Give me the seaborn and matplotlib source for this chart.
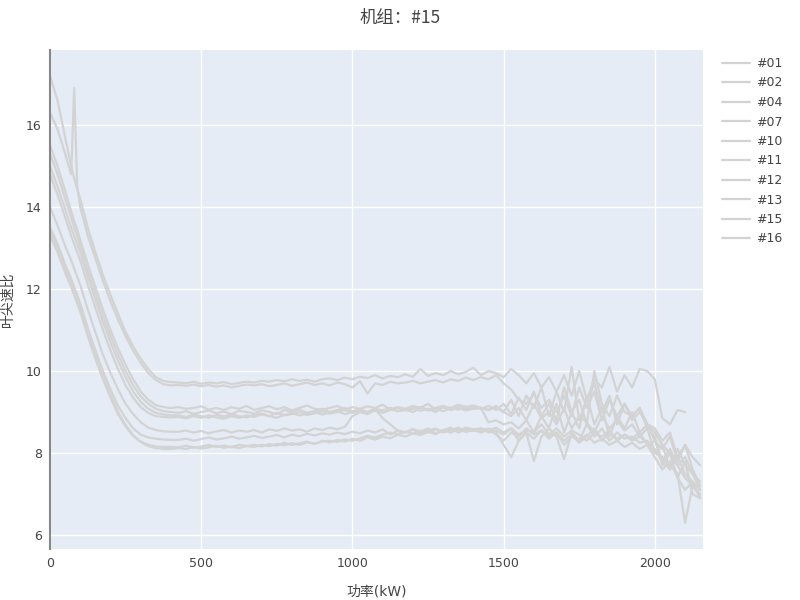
import numpy as np
import pandas as pd
import matplotlib
matplotlib.use("Agg")
import matplotlib.pyplot as plt
import seaborn as sns
from matplotlib.lines import Line2D

sns.set_theme(style="darkgrid")
plt.rcParams['font.family'] = ['DejaVu Sans', 'Noto Sans CJK SC']

# power bins (kW): dense near the start, then every 25 kW
kw_head = [0, 25, 50, 70, 80, 90, 100]
kw = np.concatenate([kw_head, np.arange(125, 2175, 25)])

units = ['#01', '#02', '#04', '#07', '#10', '#11', '#12', '#13', '#15', '#16']
nan = np.nan

tsr_01 = [17.2, 16.6, 15.7, 15.0, 14.7, 14.45, 14.2, 13.5, 12.9, 12.35, 11.85, 11.4, 10.95, 10.6, 10.3, 10.05, 9.85, 9.76, 9.73,
          9.72, 9.7, 9.74, 9.69, 9.72, 9.7, 9.73, 9.68, 9.71, 9.74,
          9.72, 9.76, 9.74, 9.78, 9.75, 9.8, 9.76, 9.79, 9.74, 9.8,
          9.82, 9.78, 9.84, 9.8, 9.86, 9.83, 9.9, 9.82, 9.88, 9.85,
          9.92, 9.86, 10.05, 9.88, 9.95, 9.9, 10.0, 9.92, 9.98, 10.08,
          9.9, 10.0, 9.95, 9.85, 10.05, 9.9, 9.7, 9.95, 9.6, 9.85,
          9.5, 9.9, 9.4, 10.0, 9.3, 9.8, 9.6, 10.1, 9.5, 9.9,
          9.6, 10.05, 10.0, 9.8, 8.85, 8.7, 9.05, 9.0, nan, nan]
tsr_02 = [16.3, 15.9, 15.3, 14.8, 16.9, 14.5, 14.0, 13.3, 12.75, 12.2, 11.7, 11.25, 10.85, 10.5, 10.2, 9.95, 9.78, 9.68, 9.65,
          9.66, 9.64, 9.67, 9.63, 9.66, 9.62, 9.65, 9.6, 9.64, 9.67,
          9.65, 9.68, 9.63, 9.66, 9.7, 9.64, 9.68, 9.72, 9.66, 9.7,
          9.65, 9.72, 9.68, 9.6, 9.75, 9.45, 9.7, 9.66, 9.74, 9.7,
          9.72, 9.76, 9.7, 9.74, 9.78, 9.72, 9.8, 9.76, 9.84, 9.78,
          9.85, 9.8, 9.9, 9.7, 9.55, 9.3, 9.2, 9.45, 9.1, 9.3,
          9.0, 9.4, 8.9, 9.6, 9.1, 9.5, 8.8, 9.3, 8.9, 9.2,
          8.9, 9.1, 8.7, 8.6, 8.3, 8.5, 7.9, 8.2, 7.6, 7.2]
tsr_04 = [15.5, 15.0, 14.4, 13.9, 13.65, 13.45, 13.2, 12.6, 12.05, 11.5, 11.0, 10.55, 10.15, 9.8, 9.5, 9.3, 9.17, 9.12, 9.1,
          9.12, 9.08, 9.1, 9.14, 9.06, 9.1, 9.05, 9.12, 9.08, 9.15,
          9.05, 9.1, 9.14, 9.07, 9.12, 9.04, 9.1, 9.16, 9.08, 9.05,
          9.1, 9.15, 9.06, 9.12, 9.08, 9.14, 9.1, 9.18, 9.06, 9.12,
          9.08, 9.15, 9.1, 9.2, 9.06, 9.14, 9.1, 9.18, 9.12, 9.16,
          9.1, 9.05, 9.15, 9.0, 9.3, 8.9, 9.4, 9.1, 9.6, 8.9,
          9.5, 9.0, 10.1, 8.8, 9.3, 9.7, 9.0, 9.4, 8.7, 9.2,
          8.8, 9.0, 8.7, 8.5, 8.2, 8.0, 7.7, 7.4, 7.2, 7.0]
tsr_07 = [15.3, 14.8, 14.2, 13.75, 13.5, 13.3, 13.05, 12.45, 11.9, 11.35, 10.85, 10.4, 10.0, 9.65, 9.38, 9.2, 9.08, 9.02, 9.0,
          8.98, 9.02, 8.96, 9.0, 9.04, 8.97, 9.01, 8.95, 9.03, 9.0,
          8.96, 9.04, 9.0, 8.95, 9.05, 9.0, 9.06, 8.98, 9.02, 9.08,
          9.0, 9.05, 9.1, 9.02, 9.06, 8.98, 9.08, 9.04, 9.1, 9.02,
          9.06, 9.1, 9.03, 9.08, 9.0, 9.12, 9.05, 9.1, 9.04, 9.08,
          9.1, 8.75, 8.8, 8.7, 8.75, 8.6, 8.8, 8.5, 8.9, 8.6,
          9.2, 8.5, 9.0, 8.6, 9.4, 8.7, 9.1, 8.4, 8.9, 8.6,
          9.0, 8.5, 8.7, 8.3, 8.1, 8.4, 7.8, 8.2, 7.9, 7.7]
tsr_10 = [15.0, 14.5, 13.95, 13.5, 13.3, 13.1, 12.9, 12.3, 11.75, 11.2, 10.7, 10.25, 9.85, 9.5, 9.25, 9.08, 8.98, 8.94, 8.92,
          8.92, 8.88, 8.94, 8.9, 8.86, 8.93, 8.89, 8.95, 8.9, 8.87,
          8.93, 8.96, 8.9, 8.98, 8.92, 8.95, 9.0, 8.93, 8.97, 9.02,
          8.96, 9.0, 9.05, 8.98, 9.03, 9.0, 9.08, 8.85, 8.7, 8.55,
          8.5, 8.58, 8.52, 8.6, 8.48, 8.56, 8.62, 8.5, 8.58, 8.54,
          8.6, 8.5, 8.55, 8.45, 8.6, 8.3, 8.5, 8.35, 8.55, 8.4,
          8.5, 8.3, 8.45, 8.25, 8.4, 8.6, 8.3, 8.5, 8.35, 8.45,
          8.3, 8.4, 8.25, 8.1, 7.8, 7.6, 7.9, 7.5, 7.3, 7.1]
tsr_11 = [14.8, 14.3, 13.75, 13.3, 13.1, 12.9, 12.7, 12.1, 11.55, 11.0, 10.5, 10.05, 9.65, 9.35, 9.12, 8.98, 8.9, 8.88, 8.87,
          8.88, 8.85, 8.9, 8.86, 8.92, 8.87, 8.84, 8.9, 8.86, 8.92,
          8.88, 8.94, 8.9, 8.86, 8.93, 8.97, 8.92, 8.96, 9.0, 8.94,
          8.98, 9.02, 8.95, 9.0, 9.06, 9.0, 9.04, 8.98, 9.05, 9.1,
          9.04, 9.08, 9.12, 9.05, 9.1, 9.15, 9.06, 9.12, 9.08, 9.14,
          9.08, 9.15, 9.05, 9.2, 8.95, 9.35, 9.05, 9.5, 8.9, 9.2,
          8.8, 9.6, 9.0, 9.3, 8.7, 10.0, 9.2, 8.9, 9.4, 9.0,
          8.9, 9.1, 8.6, 8.4, 7.7, 8.0, 7.4, 7.8, 7.0, 6.9]
tsr_12 = [14.0, 13.55, 13.05, 12.7, 12.5, 12.3, 12.1, 11.5, 10.95, 10.4, 9.95, 9.55, 9.2, 8.95, 8.75, 8.62, 8.56, 8.53, 8.52,
          8.52, 8.55, 8.5, 8.54, 8.48, 8.53, 8.56, 8.5, 8.55, 8.52,
          8.56, 8.5, 8.58, 8.54, 8.6, 8.55, 8.58, 8.52, 8.6, 8.56,
          8.62, 8.58, 8.64, 8.9, 9.0, 8.95, 9.05, 9.0, 9.08, 9.02,
          9.06, 9.0, 9.1, 9.04, 9.08, 9.02, 9.1, 9.06, 9.14, 9.08,
          9.1, 9.05, 9.12, 9.0, 8.9, 9.1, 8.8, 9.2, 8.85, 9.0,
          8.7, 9.1, 8.6, 8.9, 8.75, 8.5, 8.9, 8.6, 8.8, 8.55,
          8.7, 8.4, 8.6, 8.0, 8.2, 7.6, 8.1, 7.7, 7.5, 7.3]
tsr_13 = [13.5, 13.1, 12.6, 12.25, 12.05, 11.85, 11.65, 11.05, 10.5, 10.0, 9.55, 9.15, 8.85, 8.6, 8.45, 8.38, 8.35, 8.33, 8.32,
          8.32, 8.35, 8.3, 8.34, 8.38, 8.33, 8.36, 8.4, 8.35, 8.38,
          8.42, 8.37, 8.4, 8.44, 8.38, 8.45, 8.41, 8.47, 8.43, 8.48,
          8.45, 8.5, 8.46, 8.52, 8.48, 8.55, 8.5, 8.58, 8.45, 8.55,
          8.5, 8.58, 8.48, 8.55, 8.6, 8.5, 8.56, 8.62, 8.52, 8.58,
          8.55, 8.6, 8.5, 8.2, 7.9, 8.3, 8.5, 7.8, 8.4, 8.6,
          8.4, 7.85, 8.5, 8.3, 8.7, 8.4, 8.6, 8.3, 8.5, 8.35,
          8.4, 8.25, 8.3, 8.0, 7.9, 7.7, 7.5, 6.3, 7.2, 6.95]
tsr_15 = [13.3, 12.9, 12.4, 12.05, 11.85, 11.65, 11.45, 10.85, 10.3, 9.8, 9.35, 8.95, 8.65, 8.42, 8.28, 8.2, 8.16, 8.15, 8.15,
          8.14, 8.18, 8.13, 8.16, 8.2, 8.15, 8.18, 8.14, 8.2, 8.17,
          8.2, 8.16, 8.22, 8.18, 8.25, 8.2, 8.24, 8.28, 8.22, 8.3,
          8.26, 8.32, 8.28, 8.35, 8.3, 8.38, 8.33, 8.4, 8.36, 8.45,
          8.4, 8.48, 8.44, 8.52, 8.46, 8.55, 8.5, 8.58, 8.52, 8.56,
          8.5, 8.58, 8.45, 8.3, 8.5, 8.4, 8.6, 8.45, 8.55, 8.35,
          8.5, 8.2, 8.4, 8.3, 8.45, 8.25, 8.35, 8.2, 8.3, 8.15,
          8.25, 8.1, 8.2, 7.9, 7.6, 7.8, 7.4, 7.1, 7.3, 6.9]
tsr_16 = [13.4, 13.0, 12.5, 12.15, 11.95, 11.75, 11.55, 10.95, 10.4, 9.9, 9.42, 9.0, 8.68, 8.43, 8.27, 8.17, 8.12, 8.1, 8.1,
          8.12, 8.1, 8.15, 8.11, 8.14, 8.18, 8.13, 8.16, 8.12, 8.17,
          8.15, 8.2, 8.17, 8.22, 8.19, 8.24, 8.2, 8.26, 8.23, 8.28,
          8.3, 8.27, 8.33, 8.3, 8.36, 8.42, 8.38, 8.45, 8.5, 8.46,
          8.52, 8.48, 8.55, 8.5, 8.58, 8.53, 8.6, 8.55, 8.62, 8.58,
          8.6, 8.55, 8.62, 8.5, 8.6, 8.45, 8.55, 8.5, 8.7, 8.45,
          8.6, 8.4, 8.55, 8.45, 8.3, 8.5, 8.4, 8.55, 8.3, 8.45,
          8.35, 8.5, 8.2, 8.3, 7.8, 8.1, 7.7, 7.9, 7.5, 7.1]

series = [tsr_01, tsr_02, tsr_04, tsr_07, tsr_10, tsr_11, tsr_12, tsr_13, tsr_15, tsr_16]

frames = []
for name, vals in zip(units, series):
    frames.append(pd.DataFrame({'kw': kw, 'tsr': vals, 'unit': name}))
df = pd.concat(frames, ignore_index=True).dropna()

line_col = '#d3d3d3'
text_col = '#444444'

fig = plt.figure(figsize=(8, 6), dpi=100)
ax = fig.add_axes([0.0625, 0.085, 0.8165, 0.8317])
ax.set_facecolor('#e5ecf6')

sns.lineplot(data=df, x='kw', y='tsr', hue='unit', palette=[line_col] * len(units),
             estimator=None, sort=False, linewidth=1.6, legend=False, ax=ax)

ax.set_xlim(0, 2160)
ax.set_ylim(5.66, 17.83)
ax.set_xticks([0, 500, 1000, 1500, 2000])
ax.set_yticks([6, 8, 10, 12, 14, 16])
ax.grid(True, color='white', linewidth=1)
ax.tick_params(length=0, labelsize=9, colors=text_col, pad=6)
for s in ['top', 'right', 'bottom']:
    ax.spines[s].set_visible(False)
ax.spines['left'].set_color('#888888')
ax.spines['left'].set_linewidth(1.5)

ax.set_xlabel('功率(kW)', fontsize=10, color=text_col, labelpad=10)
ax.set_ylabel('叶尖速比', fontsize=10, color=text_col, labelpad=8)
fig.text(0.5, 1 - 18 / 600, '机组：#15', ha='center', va='center', fontsize=12.5, color=text_col,
         family=['Noto Sans CJK SC', 'DejaVu Sans'])

handles = [Line2D([0], [0], color=line_col, linewidth=1.6) for _ in units]
fig.legend(handles, units, loc='upper left', bbox_to_anchor=(722 / 800, 1 - 57 / 600),
           frameon=False, fontsize=9, handlelength=2.25, labelspacing=0.52,
           borderaxespad=0, borderpad=0, handletextpad=0.5, labelcolor=text_col)

fig.savefig('out.png', dpi=100)
